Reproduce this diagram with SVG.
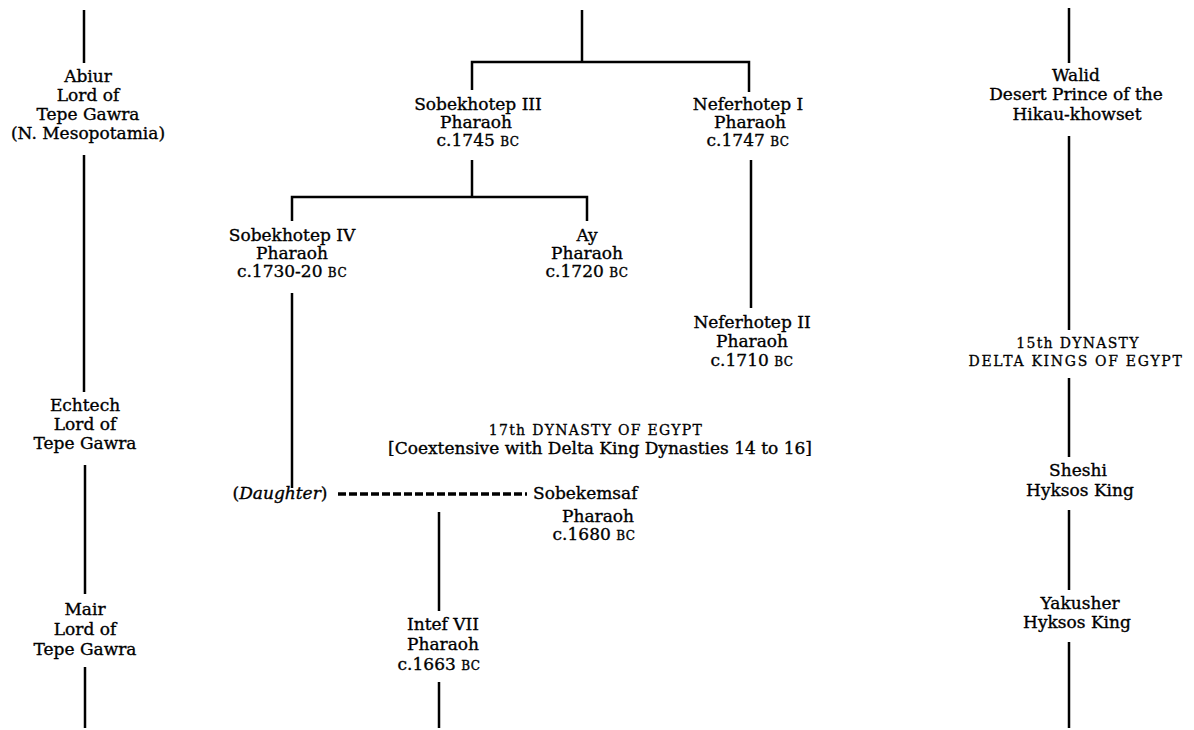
<svg xmlns="http://www.w3.org/2000/svg" width="1194" height="730" viewBox="0 0 1194 730">
  <style>
    .t { font-family: "DejaVu Serif", "Liberation Serif", serif; font-size: 17px; fill: #000; stroke: #000; stroke-width: 0.35; text-anchor: middle; }
    .t.left { text-anchor: start; }
    .sc { font-size: 12px; letter-spacing: 0.5px; }
    .cap { font-family: "DejaVu Serif", "Liberation Serif", serif; font-size: 14px; fill: #000; stroke: #000; stroke-width: 0.3; text-anchor: middle; letter-spacing: 1.3px; }
    .cap.wide { letter-spacing: 1.7px; }
    .ln { stroke: #000; stroke-width: 2.5; fill: none; }
    .marriage { stroke: #000; stroke-width: 3.5; stroke-dasharray: 8 3; fill: none; }
  </style>
  <rect width="1194" height="730" fill="#fff"/>

  <!-- lineage lines -->
  <g id="connectors">
    <!-- left column: Tepe Gawra -->
    <path class="ln" d="M84 10 V63"/>
    <path class="ln" d="M84 155 V392"/>
    <path class="ln" d="M85 465 V594"/>
    <path class="ln" d="M85 667 V728"/>

    <!-- centre: 13th dynasty branches -->
    <path class="ln" d="M582 10 V62"/>
    <path class="ln" d="M472 90 V62 H749 V92"/>
    <path class="ln" d="M472 160 V197"/>
    <path class="ln" d="M292 221 V197 H587 V221"/>
    <path class="ln" d="M292 293 V488"/>
    <path class="ln" d="M751 160 V308"/>

    <!-- marriage and issue -->
    <path class="marriage" d="M338 494 H527"/>
    <path class="ln" d="M439 512 V611"/>
    <path class="ln" d="M439 682 V728"/>

    <!-- right column: Hyksos -->
    <path class="ln" d="M1069 8 V63"/>
    <path class="ln" d="M1069 136 V330"/>
    <path class="ln" d="M1069 378 V457"/>
    <path class="ln" d="M1069 510 V590"/>
    <path class="ln" d="M1069 642 V728"/>
  </g>

  <!-- Tepe Gawra lords -->
  <g id="abiur">
    <text class="t" x="88" y="82">Abiur</text>
    <text class="t" x="88" y="101">Lord of</text>
    <text class="t" x="88" y="120">Tepe Gawra</text>
    <text class="t" x="88" y="139">(N. Mesopotamia)</text>
  </g>
  <g id="echtech">
    <text class="t" x="85" y="411">Echtech</text>
    <text class="t" x="85" y="430">Lord of</text>
    <text class="t" x="85" y="449">Tepe Gawra</text>
  </g>
  <g id="mair">
    <text class="t" x="85" y="615">Mair</text>
    <text class="t" x="85" y="635">Lord of</text>
    <text class="t" x="85" y="655">Tepe Gawra</text>
  </g>

  <!-- Egyptian pharaohs -->
  <g id="sobekhotep-iii">
    <text class="t" x="478" y="110">Sobekhotep III</text>
    <text class="t" x="476" y="128">Pharaoh</text>
    <text class="t" x="478" y="146">c.1745 <tspan class="sc">BC</tspan></text>
  </g>
  <g id="neferhotep-i">
    <text class="t" x="748" y="110">Neferhotep I</text>
    <text class="t" x="750" y="128">Pharaoh</text>
    <text class="t" x="748" y="146">c.1747 <tspan class="sc">BC</tspan></text>
  </g>
  <g id="sobekhotep-iv">
    <text class="t" x="292" y="241">Sobekhotep IV</text>
    <text class="t" x="292" y="259">Pharaoh</text>
    <text class="t" x="292" y="277">c.1730-20 <tspan class="sc">BC</tspan></text>
  </g>
  <g id="ay">
    <text class="t" x="587" y="241">Ay</text>
    <text class="t" x="587" y="259">Pharaoh</text>
    <text class="t" x="587" y="277">c.1720 <tspan class="sc">BC</tspan></text>
  </g>
  <g id="neferhotep-ii">
    <text class="t" x="752" y="328">Neferhotep II</text>
    <text class="t" x="752" y="347">Pharaoh</text>
    <text class="t" x="752" y="366">c.1710 <tspan class="sc">BC</tspan></text>
  </g>
  <g id="dynasty-17">
    <text class="cap" x="596" y="435">17th DYNASTY OF EGYPT</text>
    <text class="t" x="600" y="454" font-size="18">[Coextensive with Delta King Dynasties 14 to 16]</text>
  </g>
  <g id="daughter">
    <text class="t" x="280" y="499">(<tspan font-style="italic">Daughter</tspan>)</text>
  </g>
  <g id="sobekemsaf">
    <text class="t left" x="533" y="499">Sobekemsaf</text>
    <text class="t" x="598" y="522">Pharaoh</text>
    <text class="t" x="594" y="540">c.1680 <tspan class="sc">BC</tspan></text>
  </g>
  <g id="intef-vii">
    <text class="t" x="443" y="630">Intef VII</text>
    <text class="t" x="443" y="650">Pharaoh</text>
    <text class="t" x="439" y="670">c.1663 <tspan class="sc">BC</tspan></text>
  </g>

  <!-- Desert princes and Hyksos kings -->
  <g id="walid">
    <text class="t" x="1076" y="81">Walid</text>
    <text class="t" x="1076" y="100">Desert Prince of the</text>
    <text class="t" x="1077" y="120">Hikau-khowset</text>
  </g>
  <g id="dynasty-15">
    <text class="cap" x="1078" y="348">15th DYNASTY</text>
    <text class="cap wide" x="1076" y="366">DELTA KINGS OF EGYPT</text>
  </g>
  <g id="sheshi">
    <text class="t" x="1078" y="476">Sheshi</text>
    <text class="t" x="1080" y="496">Hyksos King</text>
  </g>
  <g id="yakusher">
    <text class="t" x="1080" y="609">Yakusher</text>
    <text class="t" x="1077" y="628">Hyksos King</text>
  </g>
</svg>
